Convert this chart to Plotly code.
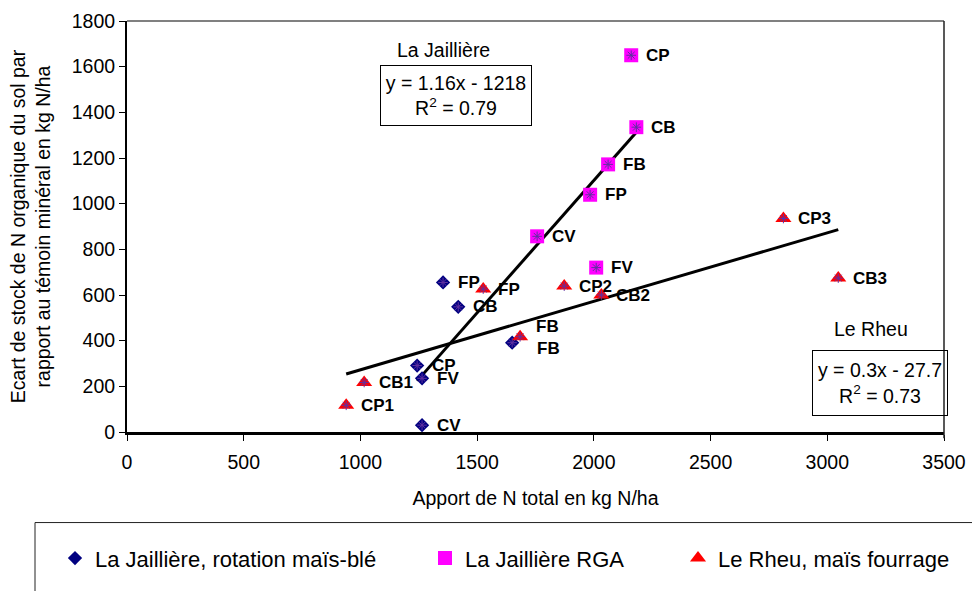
import plotly.graph_objects as go

# ---- data ----
mb_labels = ["FP", "CB", "FB", "CP", "FV", "CV"]
mb_x = [1354, 1419, 1650, 1243, 1264, 1264]
mb_y = [655, 548, 391, 291, 235, 30]

rga_labels = ["CP", "CB", "FB", "FP", "CV", "FV"]
rga_x = [2160, 2182, 2061, 1984, 1757, 2010]
rga_y = [1650, 1335, 1172, 1039, 857, 720]

rh_labels = ["FP", "CP2", "CB2", "FB", "CB1", "CP1", "CP3", "CB3"]
rh_x = [1526, 1873, 2032, 1684, 1016, 939, 2812, 3047]
rh_y = [626, 639, 600, 417, 217, 117, 935, 674]

jail_slope, jail_icpt = 1.16, -1218
rheu_slope, rheu_icpt = 0.3, -27.7

x_ticks = [0, 500, 1000, 1500, 2000, 2500, 3000, 3500]
y_ticks = [0, 200, 400, 600, 800, 1000, 1200, 1400, 1600, 1800]

FONT = "Liberation Sans, Arial, sans-serif"
FS = 19.5
VK = 0.99  # observed vertical scale of the captured page

# plot-area geometry in page pixels
PL, PR, PT, PB = 127, 944, 21, 440
PW, PH = PR - PL, PB - PT


def px_x(p):
    return (p - PL) / PW


def px_y(p):
    return (PB - p / VK) / PH


fig = go.Figure()

# trendlines
jx = [min(mb_x + rga_x), max(mb_x + rga_x)]
fig.add_trace(go.Scatter(x=jx, y=[jail_slope * v + jail_icpt for v in jx], mode="lines",
                         line=dict(color="black", width=3), showlegend=False, hoverinfo="skip"))
rx = [min(rh_x), max(rh_x)]
fig.add_trace(go.Scatter(x=rx, y=[rheu_slope * v + rheu_icpt for v in rx], mode="lines",
                         line=dict(color="black", width=3), showlegend=False, hoverinfo="skip"))

fig.add_trace(go.Scatter(x=mb_x, y=mb_y, mode="markers", name="La Jaillière, rotation maïs-blé",
                         marker=dict(symbol="diamond", size=11, color="#000080"), legend="legend"))
fig.add_trace(go.Scatter(x=rga_x, y=rga_y, mode="markers", name="La Jaillière RGA",
                         marker=dict(symbol="square", size=14, color="#FF00FF"), legend="legend2"))
fig.add_trace(go.Scatter(x=rh_x, y=rh_y, mode="markers", name="Le Rheu, maïs fourrage",
                         marker=dict(symbol="triangle-up", size=14, color="#FF0000"), legend="legend3"))
# asterisk overlay
fig.add_trace(go.Scatter(x=mb_x + rga_x + rh_x, y=mb_y + rga_y + rh_y, mode="markers",
                         marker=dict(symbol="asterisk-open", size=8, color="#6030A0",
                                     line=dict(color="#6030A0", width=1)),
                         showlegend=False, hoverinfo="skip"))

# point labels
special = {("mb", "FB"): (23, -6), ("rh", "FB"): (14, 10)}
for key, labs, xs, ys in [("mb", mb_labels, mb_x, mb_y), ("rga", rga_labels, rga_x, rga_y),
                          ("rh", rh_labels, rh_x, rh_y)]:
    for lab, xv, yv in zip(labs, xs, ys):
        dx, dy = special.get((key, lab), (13, 0))
        fig.add_annotation(x=xv, y=yv, text="<b>%s</b>" % lab, showarrow=False, xanchor="left",
                           yanchor="middle", xshift=dx, yshift=dy,
                           font=dict(family=FONT, size=17, color="black"))

# equation boxes and site names
box_common = dict(xref="paper", yref="paper", showarrow=False, xanchor="center", yanchor="middle",
                  font=dict(family=FONT, size=FS, color="black"))
fig.add_annotation(x=px_x(443), y=px_y(50), text="La Jaillière", **box_common)
fig.add_annotation(x=px_x(456), y=px_y(96), text="y = 1.16x - 1218<br>R<sup>2</sup> = 0.79",
                   bordercolor="black", borderwidth=1, width=148, height=57, align="center",
                   **box_common)
fig.add_annotation(x=px_x(871), y=px_y(332), text="Le Rheu", **box_common)
fig.add_annotation(x=px_x(880), y=px_y(386), text="y = 0.3x - 27.7<br>R<sup>2</sup> = 0.73",
                   bordercolor="black", borderwidth=1, width=132, height=62, align="center",
                   **box_common)

# plot-area top and right borders
fig.add_shape(type="line", xref="paper", yref="paper", x0=0, x1=1, y0=1, y1=1,
              line=dict(color="#808080", width=2))
fig.add_shape(type="line", xref="paper", yref="paper", x0=1, x1=1, y0=px_y(442), y1=1,
              line=dict(color="#222222", width=1.5))
# legend frame
fig.add_shape(type="rect", xref="paper", yref="paper", x0=px_x(35), x1=px_x(980),
              y0=px_y(600), y1=px_y(527), line=dict(color="#222222", width=1))

leg_common = dict(orientation="h", yanchor="middle", y=px_y(563), xanchor="left",
                  bgcolor="rgba(0,0,0,0)", borderwidth=0,
                  font=dict(family=FONT, size=22, color="black"))
fig.update_layout(
    width=972, height=591,
    margin=dict(l=PL, r=972 - PR, t=PT, b=591 - PB),
    paper_bgcolor="white", plot_bgcolor="white",
    font=dict(family=FONT, size=FS, color="black"),
    legend=dict(x=px_x(55), **leg_common),
    legend2=dict(x=px_x(425), **leg_common),
    legend3=dict(x=px_x(678), **leg_common),
    xaxis=dict(range=[0, 3500], tickvals=x_ticks, ticks="outside", ticklen=6, tickcolor="black",
               showline=True, linecolor="black", linewidth=2.5, showgrid=False, zeroline=False,
               automargin=False, tickfont=dict(family=FONT, size=FS), ticklabelstandoff=5,
               title=dict(text="Apport de N total en kg N/ha", standoff=20,
                          font=dict(family=FONT, size=FS))),
    yaxis=dict(range=[0, 1800], tickvals=y_ticks, ticks="outside", ticklen=6, tickcolor="black",
               showline=True, linecolor="black", linewidth=2, showgrid=False, zeroline=False,
               automargin=False, tickfont=dict(family=FONT, size=FS),
               title=dict(text="Ecart de stock de N organique du sol par<br>rapport au témoin minéral en kg N/ha",
                          standoff=16, font=dict(family=FONT, size=FS))),
)

# remove the default page margin so the 972x591 figure fills the window exactly
fig.write_html("out.html", config={"displayModeBar": False},
               post_script="document.body.style.margin='0px';"
                           "document.body.style.overflow='hidden';")
